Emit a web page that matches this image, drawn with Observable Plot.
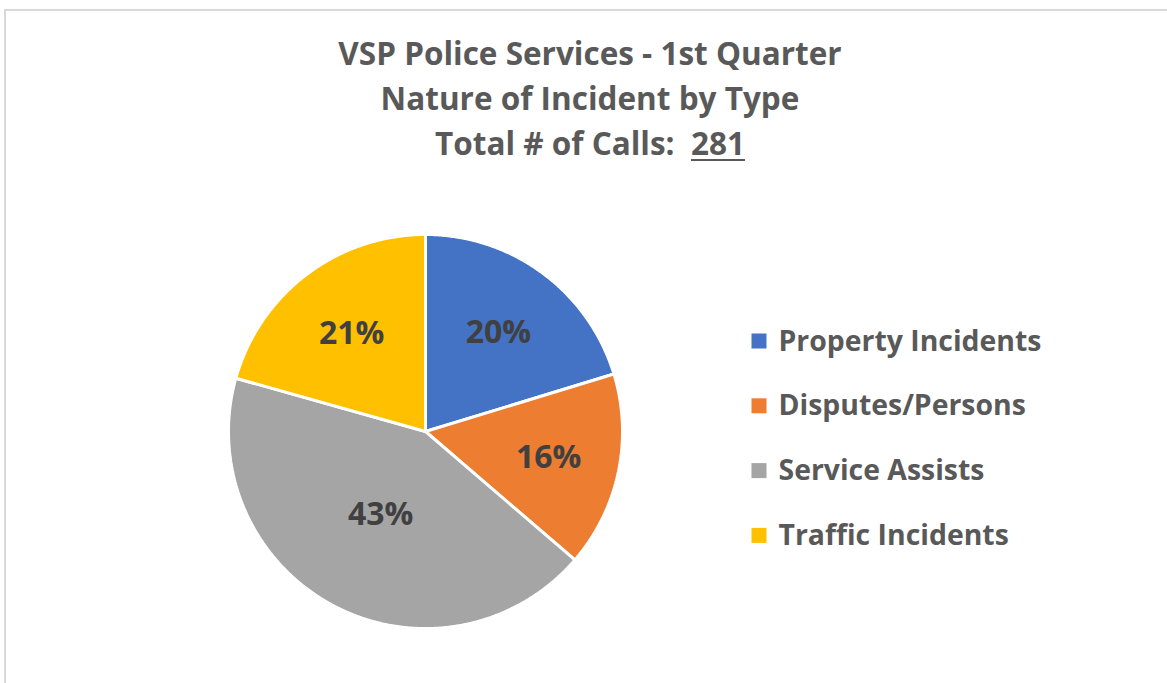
<!DOCTYPE html>
<html>
<head>
<meta charset="utf-8">
<script src="https://cdn.jsdelivr.net/npm/d3@7"></script>
<script src="https://cdn.jsdelivr.net/npm/@observablehq/plot@0.6"></script>
<style>
  html, body { margin: 0; padding: 0; background: #fff; overflow: hidden; }
  #wrap { position: relative; width: 1167px; height: 683px; overflow: hidden; }
  #frame { position: absolute; left: 4px; top: 9px; width: 1300px; height: 800px;
           border-left: 2px solid #d9d9d9; border-top: 2px solid #d9d9d9; box-sizing: border-box; }
  #title { position: absolute; left: 0; top: 30px; width: 1180px; text-align: center;
           font-family: "Open Sans", Lato, sans-serif; font-weight: bold; font-size: 31.5px;
           line-height: 45px; color: #595959; }
  #title u { text-decoration-thickness: 2px; text-underline-offset: 4px; }
  #chart { position: absolute; left: 0; top: 0; }
</style>
</head>
<body>
<div id="wrap">
  <div id="frame"></div>
  <div id="chart"></div>
  <div id="title">
    <div>VSP Police Services - 1st Quarter</div>
    <div>Nature of Incident by Type</div>
    <div>Total # of Calls:&nbsp; <u>281</u></div>
  </div>
</div>
<script>
// ---- data ----
const categories = ["Property Incidents", "Disputes/Persons", "Service Assists", "Traffic Incidents"];
const calls = [57, 45, 121, 58];
const colors = ["#4472c4", "#ed7d31", "#a5a5a5", "#ffc000"];

// ---- layout constants ----
const W = 1167, H = 683;
const cx = 425, cy = 431, R = 197;
const legendX = 759, legendY0 = 341, legendStep = 64.8, sq = 15;
const FONT = "'Open Sans', Lato, sans-serif";

const total = d3.sum(calls);
const pie = d3.pie().sort(null).value(d => d)(calls);

// slice outlines: angle measured clockwise from 12 o'clock
const slicePts = [];
pie.forEach((p, i) => {
  const name = categories[i];
  slicePts.push({name, x: cx, y: cy});
  const n = Math.max(2, Math.ceil((p.endAngle - p.startAngle) / (Math.PI / 360)));
  for (let k = 0; k <= n; k++) {
    const a = p.startAngle + (p.endAngle - p.startAngle) * k / n;
    slicePts.push({name, x: cx + R * Math.sin(a), y: cy - R * Math.cos(a)});
  }
  slicePts.push({name, x: cx, y: cy});
});

// labels at the sector's centroid
const labels = pie.map((p, i) => {
  const half = (p.endAngle - p.startAngle) / 2;
  const mid = p.startAngle + half;
  const d = 2 * R * Math.sin(half) / (3 * half);
  return {
    name: categories[i],
    text: Math.round(100 * calls[i] / total) + "%",
    x: cx + d * Math.sin(mid),
    y: cy - d * Math.cos(mid)
  };
});

const legend = categories.map((name, i) => ({
  name,
  x1: legendX - sq / 2, x2: legendX + sq / 2,
  y1: legendY0 + i * legendStep - sq / 2, y2: legendY0 + i * legendStep + sq / 2,
  tx: legendX + 19, ty: legendY0 + i * legendStep
}));

const chart = Plot.plot({
  width: W, height: H,
  margin: 0,
  x: {domain: [0, W], range: [0, W], axis: null},
  y: {domain: [0, H], range: [0, H], axis: null},
  color: {domain: categories, range: colors},
  style: {background: "transparent", overflow: "visible"},
  marks: [
    Plot.line(slicePts, {x: "x", y: "y", z: "name", fill: "name", stroke: "#fff",
      strokeWidth: 3, strokeLinejoin: "miter", curve: "linear"}),
    Plot.text(labels, {x: "x", y: "y", text: "text", fill: "#404040", fontSize: 32,
      fontWeight: "bold", fontFamily: FONT}),
    Plot.rect(legend, {x1: "x1", x2: "x2", y1: "y1", y2: "y2", fill: "name"}),
    Plot.text(legend, {x: "tx", y: "ty", text: "name", textAnchor: "start", fill: "#595959",
      fontSize: 28.4, fontWeight: "bold", fontFamily: FONT})
  ]
});
document.getElementById("chart").appendChild(chart);
</script>
</body>
</html>
